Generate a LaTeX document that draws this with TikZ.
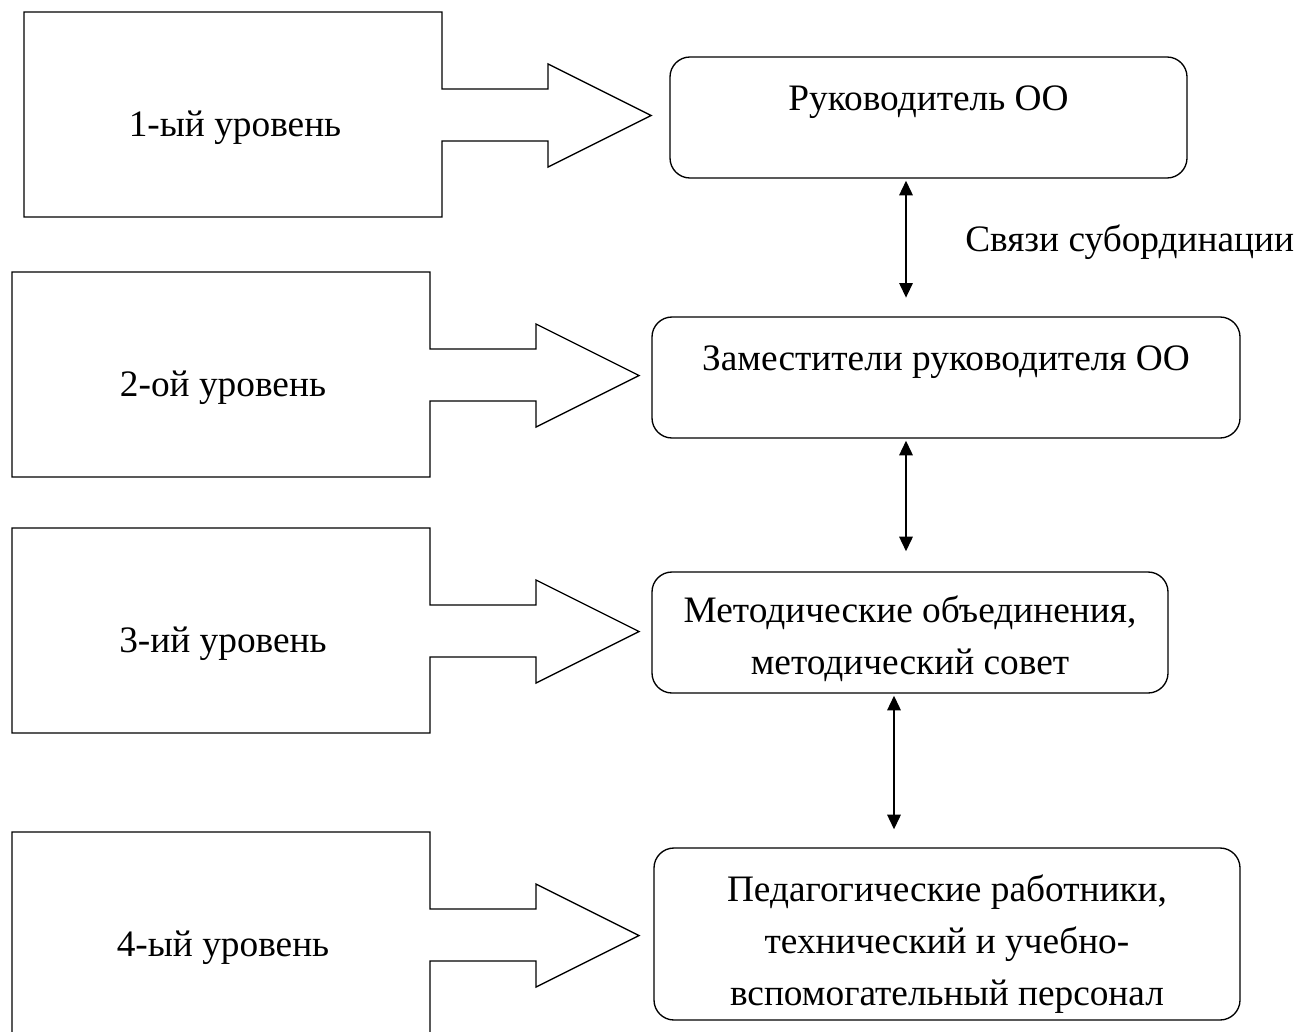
\documentclass[tikz,border=0pt]{standalone}
\usepackage{fontspec}
\setmainfont{Liberation Serif}
\usetikzlibrary{arrows.meta,calc}
\tikzset{
  shapeline/.style={draw=black, line width=1pt, line join=miter},
  lvltext/.style={font=\fontsize{28}{39}\selectfont, inner sep=0pt},
  boxtext/.style={font=\fontsize{28}{39}\selectfont, inner sep=0pt, align=center},
  rbox/.style={draw=black, line width=1pt, rounded corners=15pt, minimum width=#1, inner sep=0pt},
  biarrow/.style={line width=1.6pt, {Triangle[length=11pt,width=10pt]}-{Triangle[length=11pt,width=10pt]}},
  levelpic/.pic={
    \draw[shapeline] (0,0) -- (418,0) -- (418,77) -- (524,77) -- (524,52) -- (627,103.5)
      -- (524,155) -- (524,129) -- (418,129) -- (418,205) -- (0,205) -- cycle;
    \node[lvltext] (-label) at (211,116) {#1};
  }
}
\begin{document}
\begin{tikzpicture}[x=0.75pt, y=-0.75pt]
\useasboundingbox (0,0) rectangle (1308,1031);
\clip (0,0) rectangle (1308,1031);
% left level shapes
\pic (L1) at (24,12) {levelpic={1-ый уровень}};
\pic (L2) at (12,272) {levelpic={2-ой уровень}};
\pic (L3) at (12,528) {levelpic={3-ий уровень}};
\pic (L4) at (12,832) {levelpic={4-ый уровень}};
% right boxes
\node[rbox=517*0.75pt, minimum height=121*0.75pt] (b1) at (928.5,117.5) {};
\node[rbox=588*0.75pt, minimum height=121*0.75pt] (b2) at (946,377.5) {};
\node[rbox=516*0.75pt, minimum height=121*0.75pt] (b3) at (910,632.5) {};
\node[rbox=586*0.75pt, minimum height=172*0.75pt] (b4) at (947,934) {};
\node[boxtext] (t1) at ($(b1.north)+(0,46)$) {Руководитель ОО};
\node[boxtext] (t2) at ($(b2.north)+(0,46)$) {Заместители руководителя ОО};
\node[boxtext] (t3) at ($(b3.north)+(0,67)$) {Методические объединения,\\методический совет};
\node[boxtext] (t4) at ($(b4.north)+(0,97)$) {Педагогические работники,\\технический и учебно-\\вспомогательный персонал};
% connectors
\coordinate (c1) at (906,0);
\coordinate (c3) at (894,0);
\draw[biarrow, shorten <=1.5pt, shorten >=14pt] (b1.south -| c1) -- (b2.north -| c1);
\draw[biarrow, shorten <=1.5pt, shorten >=15pt] (b2.south -| c1) -- (b3.north -| c1);
\draw[biarrow, shorten <=1.5pt, shorten >=13.5pt] (b3.south -| c3) -- (b4.north -| c3);
\node[lvltext, anchor=west] (sub) at (965,242) {Связи субординации};
\end{tikzpicture}
\end{document}
